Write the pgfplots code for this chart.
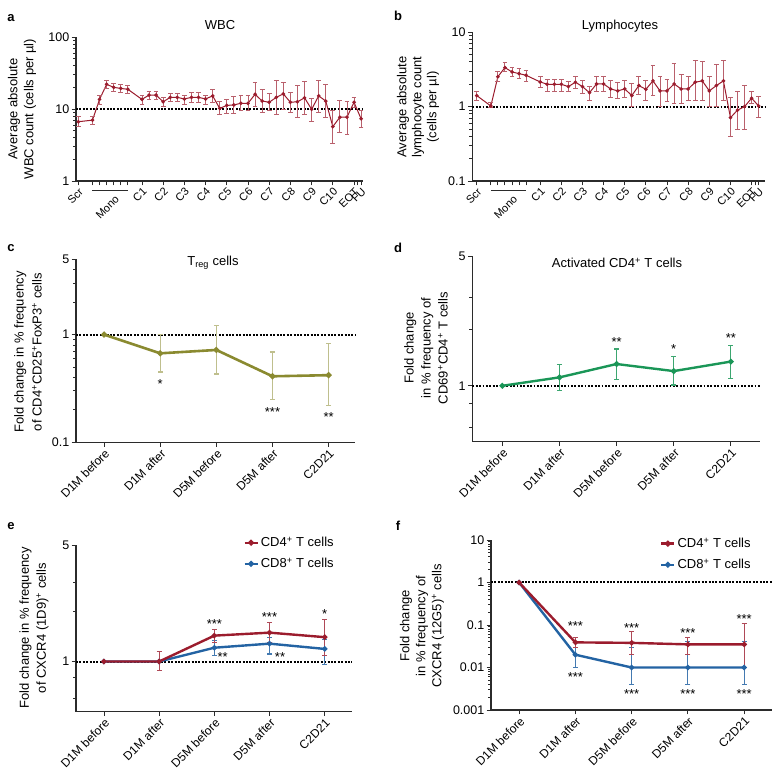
\documentclass[border=0pt]{standalone}
\usepackage{pgfplots}
\pgfplotsset{compat=1.18}
\usepackage{pgfplotstable}
\usepackage{fontspec}
\setmainfont{Liberation Sans}
\definecolor{wred}{HTML}{9B1C2D}
\definecolor{olv}{HTML}{8A8A30}
\definecolor{grn}{HTML}{1A9657}
\definecolor{blu}{HTML}{2363A3}
\definecolor{axc}{HTML}{2B2B2B}
\newcommand\fs[1]{\fontsize{#1bp}{#1bp}\selectfont}

\pgfplotstableread{
x y hi lo
0 6.66 7.8 5.7
2 7.0 8.0 6.1
3 13.6 15.6 11.7
4 22.0 24.6 19.4
5 20.0 22.7 17.4
6 19.3 22.2 16.8
7 18.8 21.5 16.2
9 13.6 15.6 11.7
10 15.6 17.4 13.6
11 15.6 17.4 13.6
12 12.6 14.5 11.0
13 14.5 16.5 12.6
14 14.5 16.5 12.6
15 13.8 15.6 11.7
16 14.5 17.0 12.2
17 14.5 17.0 12.2
18 13.8 15.6 11.7
19 15.2 18.8 12.2
20 10.2 12.6 8.5
21 11.2 13.5 8.8
22 11.4 14.8 8.7
23 12.0 15.3 9.4
24 12.0 15.3 9.4
25 16.0 23.2 10.8
26 12.9 18.8 8.9
27 12.4 16.5 9.4
28 14.5 24.6 8.5
29 16.2 23.4 9.9
30 12.4 16.8 8.9
31 12.6 21.5 7.6
32 14.3 23.9 8.5
33 9.9 13.9 6.7
34 15.2 24.6 8.9
35 12.9 21.8 7.7
36 5.7 9.5 3.3
37 7.7 13.0 4.7
38 7.7 12.6 4.5
39 12.4 14.3 10.6
40 7.3 9.5 5.5
}\wbc

\pgfplotstableread{
x y hi lo
0 1.41 1.59 1.23
2 1.02 1.13 0.98
3 2.53 2.96 2.17
4 3.35 3.9 2.96
5 2.93 3.39 2.53
6 2.78 3.22 2.36
7 2.64 3.05 2.17
9 2.15 2.53 1.82
10 2.0 2.34 1.59
11 2.0 2.34 1.59
12 2.0 2.34 1.59
13 1.86 2.17 1.59
14 2.13 2.53 1.77
15 1.86 2.24 1.51
16 1.54 1.86 1.23
17 2.02 2.53 1.59
18 2.02 2.53 1.59
19 1.73 2.24 1.34
20 1.63 2.13 1.30
21 1.73 2.24 1.34
22 1.41 2.02 1.0
23 1.92 2.53 1.44
24 1.71 2.22 1.2
25 2.22 3.56 1.41
26 1.63 2.53 1.0
27 1.63 2.34 1.19
28 2.02 3.83 1.11
29 1.73 2.73 1.11
30 1.73 2.53 1.2
31 2.13 4.12 1.2
32 2.22 4.0 1.2
33 1.63 2.53 1.0
34 1.92 3.72 1.0
35 2.22 4.16 1.2
36 0.71 1.32 0.40
37 0.90 1.59 0.50
38 1.0 1.92 0.50
39 1.30 1.59 1.11
40 1.02 1.39 0.71
}\lym

\pgfplotstableread{
x y hi lo
0 1 1 1
1 0.67 1.0 0.45
2 0.72 1.22 0.43
3 0.41 0.69 0.25
4 0.42 0.82 0.22
}\treg

\pgfplotstableread{
x y hi lo
0 1 1 1
1 1.11 1.30 0.94
2 1.31 1.58 1.08
3 1.20 1.44 1.01
4 1.35 1.65 1.09
}\actd

\pgfplotstableread{
x y hi lo
0 1 1 1
1 1 1.15 0.88
2 1.43 1.55 1.30
3 1.49 1.71 1.30
4 1.40 1.79 1.09
}\efour

\pgfplotstableread{
x y hi lo
0 1 1 1
1 1 1 1
2 1.21 1.33 1.08
3 1.28 1.40 1.11
4 1.19 1.35 0.96
}\eeight

\pgfplotstableread{
x y hi lo
0 1 1 1
1 0.039 0.051 0.030
2 0.038 0.07 0.02
3 0.035 0.05 0.02
4 0.035 0.108 0.01
}\ffour

\pgfplotstableread{
x y hi lo
0 1 1 1
1 0.02 0.03 0.01
2 0.01 0.03 0.004
3 0.01 0.04 0.004
4 0.01 0.04 0.004
}\feight

\pgfplotsset{every axis/.append style={
    scale only axis, clip=false,
    axis x line*=bottom, axis y line*=left,
    axis line style={line width=1.1bp, axc},
    major tick style={line width=0.9bp, axc},
    minor tick style={line width=0.9bp, axc},
    major tick length=4.5bp, minor tick length=3bp,
    tick align=outside,
    yticklabel style={font=\fs{12.5}, inner sep=2bp},
}}
\tikzset{
  reflline/.style={black, line width=2bp, dash pattern=on 1.9bp off 1.5bp},
  starnode/.style={font=\fs{13}, inner sep=0pt, yshift=-2.8bp},
}

\begin{document}
\begin{tikzpicture}
\useasboundingbox (0,0) rectangle (779bp,776bp);

% panel letters
\node[font=\fs{13}\bfseries] at (11bp,758bp) {a};
\node[font=\fs{13}\bfseries] at (398bp,760bp) {b};
\node[font=\fs{13}\bfseries] at (11bp,528bp) {c};
\node[font=\fs{13}\bfseries] at (398bp,528bp) {d};
\node[font=\fs{13}\bfseries] at (11bp,250bp) {e};
\node[font=\fs{13}\bfseries] at (398bp,250bp) {f};

% titles
\node[font=\fs{13}] at (220bp,751bp) {WBC};
\node[font=\fs{13}] at (620bp,750bp) {Lymphocytes};
\node[font=\fs{13}] at (213bp,513bp) {T\textsubscript{reg} cells};
\node[font=\fs{13}] at (617bp,513bp) {Activated CD4\textsuperscript{+} T cells};

% y labels
\node[rotate=90, align=center, font=\fontsize{13bp}{16bp}\selectfont] at (22bp,667bp) {Average absolute\\WBC count (cells per µl)};
\node[rotate=90, align=center, font=\fontsize{13bp}{15bp}\selectfont] at (418bp,669bp) {Average absolute\\lymphocyte count\\(cells per µl)};
\node[rotate=90, align=center, font=\fontsize{13bp}{18bp}\selectfont] at (28bp,424bp) {Fold change in \% frequency\\of CD4\textsuperscript{+}CD25\textsuperscript{+}FoxP3\textsuperscript{+} cells};
\node[rotate=90, align=center, font=\fontsize{13bp}{17bp}\selectfont] at (426bp,428bp) {Fold change\\in \% frequency of\\CD69\textsuperscript{+}CD4\textsuperscript{+} T cells};
\node[rotate=90, align=center, font=\fontsize{13bp}{17bp}\selectfont] at (34bp,148bp) {Fold change in \% frequency\\of CXCR4 (1D9)\textsuperscript{+} cells};
\node[rotate=90, align=center, font=\fontsize{13bp}{16bp}\selectfont] at (422bp,150bp) {Fold change\\in \% frequency of\\CXCR4 (12G5)\textsuperscript{+} cells};

% ---------- a ----------
\begin{axis}[at={(76bp,595bp)}, anchor=south west, width=287bp, height=144bp,
  ymode=log, xmin=-0.33, xmax=40.27, ymin=1, ymax=100,
  ytick={1,10,100}, yticklabels={1,10,100},
  minor ytick={2,3,4,5,6,7,8,9,20,30,40,50,60,70,80,90},
  xtick={0,2,3,4,5,6,7,9,12,15,18,21,24,27,30,33,36,39,39.5,40},
  xticklabels={Scr,,,,,,,C1,C2,C3,C4,C5,C6,C7,C8,C9,C10,EOT,,FU},
  xticklabel style={font=\fs{11}, rotate=45, anchor=north east, inner sep=1bp},
]
\draw[reflline] ({rel axis cs:0,0}|-{axis cs:0,10}) -- ({rel axis cs:1,0}|-{axis cs:0,10});
\addplot[wred, line width=1bp, mark=*, mark size=1.3bp,
  error bars/y dir=both, error bars/y explicit,
  error bars/error bar style={wred!70, line width=0.9bp},
  error bars/error mark options={rotate=90, wred!70, line width=0.9bp, mark size=2.4bp}]
  table[x=x, y=y, y error plus expr=\thisrow{hi}-\thisrow{y}, y error minus expr=\thisrow{y}-\thisrow{lo}] {\wbc};
\draw[axc, line width=0.9bp] ([yshift=-9bp]axis cs:2,1) -- ([yshift=-9bp]axis cs:7,1);
\node[font=\fs{11}, rotate=45, anchor=north east, inner sep=1bp] at ([yshift=-12bp]axis cs:5.1,1) {Mono};
\end{axis}

% ---------- b ----------
\begin{axis}[at={(472.3bp,595bp)}, anchor=south west, width=292.7bp, height=148.7bp,
  ymode=log, xmin=-0.63, xmax=40.9, ymin=0.1, ymax=10,
  ytick={0.1,1,10}, yticklabels={0.1,1,10},
  minor ytick={0.2,0.3,0.4,0.5,0.6,0.7,0.8,0.9,2,3,4,5,6,7,8,9},
  xtick={0,2,3,4,5,6,7,9,12,15,18,21,24,27,30,33,36,39,39.5,40},
  xticklabels={Scr,,,,,,,C1,C2,C3,C4,C5,C6,C7,C8,C9,C10,EOT,,FU},
  xticklabel style={font=\fs{11}, rotate=45, anchor=north east, inner sep=1bp},
]
\draw[reflline] ({rel axis cs:0,0}|-{axis cs:0,1}) -- ({rel axis cs:1,0}|-{axis cs:0,1});
\addplot[wred, line width=1bp, mark=*, mark size=1.3bp,
  error bars/y dir=both, error bars/y explicit,
  error bars/error bar style={wred!70, line width=0.9bp},
  error bars/error mark options={rotate=90, wred!70, line width=0.9bp, mark size=2.4bp}]
  table[x=x, y=y, y error plus expr=\thisrow{hi}-\thisrow{y}, y error minus expr=\thisrow{y}-\thisrow{lo}] {\lym};
\draw[axc, line width=0.9bp] ([yshift=-9bp]axis cs:2,0.1) -- ([yshift=-9bp]axis cs:7,0.1);
\node[font=\fs{11}, rotate=45, anchor=north east, inner sep=1bp] at ([yshift=-12bp]axis cs:5.1,0.1) {Mono};
\end{axis}

% ---------- c ----------
\begin{axis}[at={(76bp,333.7bp)}, anchor=south west, width=279bp, height=183bp,
  ymode=log, xmin=-0.5, xmax=4.47, ymin=0.1, ymax=5,
  ytick={0.1,1,5}, yticklabels={0.1,1,5},
  minor ytick={0.2,0.3,0.4,0.5,0.6,0.7,0.8,0.9,2,3,4},
  xtick={0,1,2,3,4},
  xticklabels={D1M before,D1M after,D5M before,D5M after,C2D21},
  xticklabel style={font=\fs{12}, rotate=45, anchor=north east, inner sep=1bp},
]
\draw[reflline] ({rel axis cs:0,0}|-{axis cs:0,1}) -- ({rel axis cs:1,0}|-{axis cs:0,1});
\addplot[olv, line width=2.6bp, mark=*, mark size=1.5bp,
  error bars/y dir=both, error bars/y explicit,
  error bars/error bar style={olv!55, line width=1.2bp},
  error bars/error mark options={rotate=90, olv!55, line width=1.2bp, mark size=2.5bp}]
  table[x=x, y=y, y error plus expr=\thisrow{hi}-\thisrow{y}, y error minus expr=\thisrow{y}-\thisrow{lo}] {\treg};
\node[starnode] at (axis cs:1,0.366) {*};
\node[starnode] at (axis cs:3,0.204) {***};
\node[starnode] at (axis cs:4,0.183) {**};
\end{axis}

% ---------- d ----------
\begin{axis}[at={(472.3bp,334.3bp)}, anchor=south west, width=287.7bp, height=185.7bp,
  ymode=log, xmin=-0.525, xmax=4.51, ymin=0.5, ymax=5,
  ytick={1,5}, yticklabels={1,5},
  minor ytick={0.6,0.8,2,3},
  xtick={0,1,2,3,4},
  xticklabels={D1M before,D1M after,D5M before,D5M after,C2D21},
  xticklabel style={font=\fs{12}, rotate=45, anchor=north east, inner sep=1bp},
]
\draw[reflline] ({rel axis cs:0,0}|-{axis cs:0,1}) -- ({rel axis cs:1,0}|-{axis cs:0,1});
\addplot[grn, line width=2.4bp, mark=*, mark size=1.5bp,
  error bars/y dir=both, error bars/y explicit,
  error bars/error bar style={grn!85, line width=1.2bp},
  error bars/error mark options={rotate=90, grn!85, line width=1.2bp, mark size=2.5bp}]
  table[x=x, y=y, y error plus expr=\thisrow{hi}-\thisrow{y}, y error minus expr=\thisrow{y}-\thisrow{lo}] {\actd};
\node[starnode] at (axis cs:2,1.79) {**};
\node[starnode] at (axis cs:3,1.64) {*};
\node[starnode] at (axis cs:4,1.88) {**};
\end{axis}

% ---------- e ----------
\begin{axis}[at={(76bp,64.3bp)}, anchor=south west, width=276.3bp, height=166.7bp,
  ymode=log, xmin=-0.507, xmax=4.5, ymin=0.5, ymax=5,
  ytick={1,5}, yticklabels={1,5},
  minor ytick={0.6,0.8,2,3},
  xtick={0,1,2,3,4},
  xticklabels={D1M before,D1M after,D5M before,D5M after,C2D21},
  xticklabel style={font=\fs{12}, rotate=45, anchor=north east, inner sep=1bp},
  reverse legend,
  legend style={at={(0.605,1.06)}, anchor=north west, draw=none, fill=none,
    font=\fs{13}, inner sep=0pt, row sep=6bp, cells={anchor=west}},
  legend image code/.code={\draw[#1, line width=2.4bp] (0bp,0bp) -- (13bp,0bp); \fill[#1] (6.5bp,0bp) circle (1.6bp);},
]
\draw[reflline] ({rel axis cs:0,0}|-{axis cs:0,1}) -- ({rel axis cs:1,0}|-{axis cs:0,1});
\addplot[blu, line width=2.4bp, mark=*, mark size=1.3bp,
  error bars/y dir=both, error bars/y explicit,
  error bars/error bar style={blu!85, line width=1.1bp},
  error bars/error mark options={rotate=90, blu!85, line width=1.1bp, mark size=2.5bp}]
  table[x=x, y=y, y error plus expr=\thisrow{hi}-\thisrow{y}, y error minus expr=\thisrow{y}-\thisrow{lo}] {\eeight};
\addplot[wred, line width=2.4bp, mark=*, mark size=1.3bp,
  error bars/y dir=both, error bars/y explicit,
  error bars/error bar style={wred!80, line width=1.1bp},
  error bars/error mark options={rotate=90, wred!80, line width=1.1bp, mark size=2.5bp}]
  table[x=x, y=y, y error plus expr=\thisrow{hi}-\thisrow{y}, y error minus expr=\thisrow{y}-\thisrow{lo}] {\efour};
\legend{CD8\textsuperscript{+} T cells, CD4\textsuperscript{+} T cells}
\node[starnode] at (axis cs:2,1.74) {***};
\node[starnode] at (axis cs:2.15,1.11) {**};
\node[starnode] at (axis cs:3,1.92) {***};
\node[starnode] at (axis cs:3.19,1.11) {**};
\node[starnode] at (axis cs:4,2.01) {*};
\end{axis}

% ---------- f ----------
\begin{axis}[at={(491bp,66bp)}, anchor=south west, width=280.7bp, height=170bp,
  ymode=log, xmin=-0.5, xmax=4.49, ymin=0.001, ymax=10,
  ytick={0.001,0.01,0.1,1,10}, yticklabels={0.001,0.01,0.1,1,10},
  xtick={0,1,2,3,4},
  xticklabels={D1M before,D1M after,D5M before,D5M after,C2D21},
  xticklabel style={font=\fs{12}, rotate=45, anchor=north east, inner sep=1bp},
  reverse legend,
  legend style={at={(0.602,1.024)}, anchor=north west, draw=none, fill=none,
    font=\fs{13}, inner sep=0pt, row sep=6bp, cells={anchor=west}},
  legend image code/.code={\draw[#1, line width=2.4bp] (0bp,0bp) -- (13bp,0bp); \fill[#1] (6.5bp,0bp) circle (1.6bp);},
]
\draw[reflline] ({rel axis cs:0,0}|-{axis cs:0,1}) -- ({rel axis cs:1,0}|-{axis cs:0,1});
\addplot[blu, line width=2.4bp, mark=*, mark size=1.3bp,
  error bars/y dir=both, error bars/y explicit,
  error bars/error bar style={blu!85, line width=1.1bp},
  error bars/error mark options={rotate=90, blu!85, line width=1.1bp, mark size=2.5bp}]
  table[x=x, y=y, y error plus expr=\thisrow{hi}-\thisrow{y}, y error minus expr=\thisrow{y}-\thisrow{lo}] {\feight};
\addplot[wred, line width=2.4bp, mark=*, mark size=1.3bp,
  error bars/y dir=both, error bars/y explicit,
  error bars/error bar style={wred!80, line width=1.1bp},
  error bars/error mark options={rotate=90, wred!80, line width=1.1bp, mark size=2.5bp}]
  table[x=x, y=y, y error plus expr=\thisrow{hi}-\thisrow{y}, y error minus expr=\thisrow{y}-\thisrow{lo}] {\ffour};
\legend{CD8\textsuperscript{+} T cells, CD4\textsuperscript{+} T cells}
\node[starnode] at (axis cs:1,0.111) {***};
\node[starnode] at (axis cs:1,0.0071) {***};
\node[starnode] at (axis cs:2,0.101) {***};
\node[starnode] at (axis cs:2,0.00272) {***};
\node[starnode] at (axis cs:3,0.077) {***};
\node[starnode] at (axis cs:3,0.00272) {***};
\node[starnode] at (axis cs:4,0.158) {***};
\node[starnode] at (axis cs:4,0.00272) {***};
\end{axis}
\end{tikzpicture}
\end{document}
